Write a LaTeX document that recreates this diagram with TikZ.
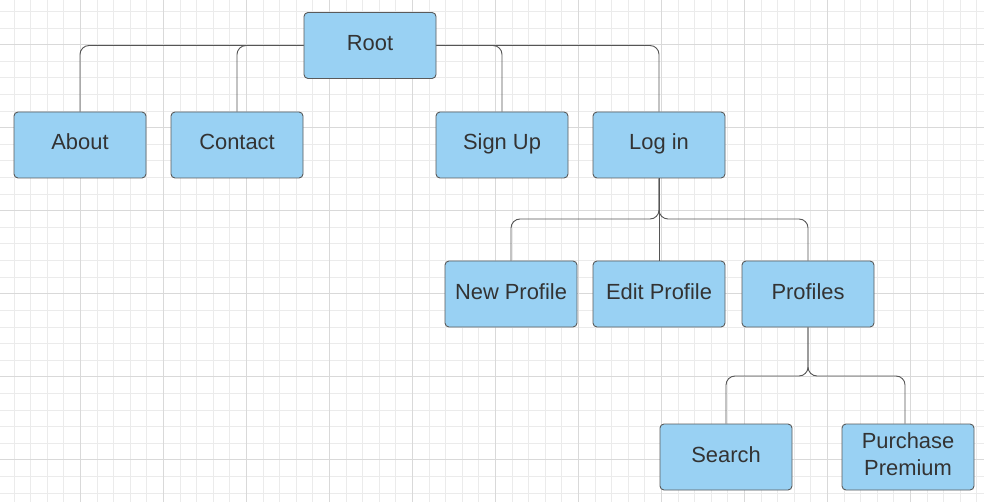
\documentclass[tikz,border=0pt]{standalone}
\usepackage{fontspec}
\setmainfont{Liberation Sans}
\definecolor{boxfill}{HTML}{99D1F3}
\definecolor{boxdraw}{HTML}{5A5A5A}
\definecolor{txt}{HTML}{333333}
\definecolor{gridminor}{HTML}{EBEBEB}
\definecolor{gridmajor}{HTML}{D9D9D9}
\definecolor{conncol}{HTML}{555555}
\tikzset{
  basebox/.style={draw=boxdraw, fill=boxfill, line width=0.9pt, rounded corners=4pt,
    minimum width=132pt, minimum height=66pt, inner sep=0pt, text=txt,
    font=\fontsize{21.9}{26.7}\selectfont},
  box/.style={basebox, text height=15pt, text depth=5pt},
  conn/.style={draw=conncol, line width=0.9pt, rounded corners=9pt},
  gminor/.style={draw=gridminor, line width=0.8pt},
  gmajor/.style={draw=gridmajor, line width=0.9pt}
}
\begin{document}
\begin{tikzpicture}[x=1pt,y=-1pt]
\useasboundingbox (0,0) rectangle (984,502);
\fill[white] (0,0) rectangle (984,502);
% grid
\begin{scope}
\clip (0,0) rectangle (984,502);
\foreach \i in {-5,...,55} {
  \pgfmathsetmacro\xx{80.3+\i*16.6}
  \draw[gminor] (\xx,0) -- (\xx,502);
}
\foreach \i in {-8,...,25} {
  \pgfmathsetmacro\yy{127.7+\i*16.6}
  \draw[gminor] (0,\yy) -- (984,\yy);
}
\foreach \i in {-1,...,11} {
  \pgfmathsetmacro\xx{80.3+\i*83}
  \draw[gmajor] (\xx,0) -- (\xx,502);
}
\foreach \i in {-2,...,5} {
  \pgfmathsetmacro\yy{127.7+\i*83}
  \draw[gmajor] (0,\yy) -- (984,\yy);
}
\end{scope}
% nodes
\node[box] (root) at (370,45.5) {Root};
\node[box] (about) at (80,145) {About};
\node[box] (contact) at (237,145) {Contact};
\node[box] (signup) at (502,145) {Sign Up};
\node[box] (login) at (659,145) {Log in};
\node[box] (newprofile) at (511,294) {New Profile};
\node[box] (editprofile) at (659,294) {Edit Profile};
\node[box] (profiles) at (808,294) {Profiles};
\node[box] (search) at (726,457) {Search};
\node[basebox] (purchase) at (908,457)
  {\raisebox{3pt}{\begin{tabular}{@{}c@{}}Purchase\\Premium\end{tabular}}};
% connectors
\coordinate (lj) at (659,219);
\coordinate (pj) at (808,376);
\draw[conn] (root.west) -| (about.north);
\draw[conn] (root.west) -| (contact.north);
\draw[conn] (root.east) -| (signup.north);
\draw[conn] (root.east) -| (login.north);
\draw[conn] (login.south) -- (lj) -| (newprofile.north);
\draw[conn] (login.south) -- (lj) -| (profiles.north);
\draw[conn] (login.south) -- (editprofile.north);
\draw[conn] (profiles.south) -- (pj) -| (search.north);
\draw[conn] (profiles.south) -- (pj) -| ([xshift=-3pt]purchase.north);
\end{tikzpicture}
\end{document}
